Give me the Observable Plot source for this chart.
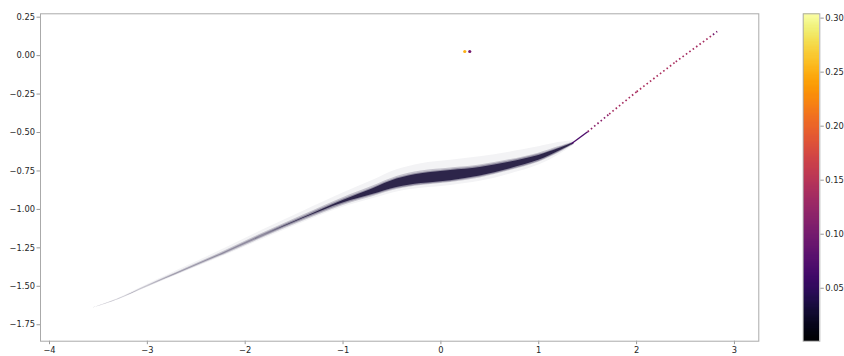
<!DOCTYPE html>
<html>
<head>
<meta charset="utf-8">
<script src="https://cdn.jsdelivr.net/npm/d3@7"></script>
<script src="https://cdn.jsdelivr.net/npm/@observablehq/plot@0.6"></script>
<style>
  html, body { margin: 0; padding: 0; background: #fff; }
  #wrap { position: relative; width: 844px; height: 356px; }
  #wrap svg { position: absolute; left: 0; top: 0; }
  .tick line, g[aria-label$="tick"] path { stroke: #9a9a9a; }
</style>
</head>
<body>
<div id="wrap"></div>
<script>
// ---- data ----
const xTicks = [-4, -3, -2, -1, 0, 1, 2, 3];
const yTicks = [-1.75, -1.5, -1.25, -1.0, -0.75, -0.5, -0.25, 0.0, 0.25];
const colorTicks = [0.05, 0.10, 0.15, 0.20, 0.25, 0.30];
const colorDomain = [0.001, 0.304];

// dense band: centre line and spreads (y units)
const bandX    = [-3.55, -3.3, -3.0, -2.6, -2.2, -1.8, -1.4, -1.0, -0.7, -0.45, -0.2, 0.1, 0.4, 0.7, 1.0, 1.2, 1.36];
const bandY    = [-1.64, -1.585, -1.5, -1.39, -1.28, -1.165, -1.055, -0.95, -0.885, -0.83, -0.8, -0.78, -0.755, -0.715, -0.665, -0.615, -0.57];
const haloHalf = [0.002, 0.005, 0.01, 0.016, 0.023, 0.03, 0.036, 0.045, 0.058, 0.07, 0.078, 0.08, 0.078, 0.07, 0.058, 0.04, 0.015];
const midHalf  = [0, 0.002, 0.005, 0.008, 0.011, 0.015, 0.018, 0.024, 0.032, 0.04, 0.045, 0.045, 0.04, 0.034, 0.028, 0.02, 0.008];
const innerHalf= [0, 0, 0, 0.002, 0.005, 0.008, 0.011, 0.016, 0.025, 0.034, 0.039, 0.04, 0.035, 0.029, 0.023, 0.015, 0.005];
const coreHalf = [0, 0, 0, 0, 0, 0, 0.002, 0.008, 0.018, 0.027, 0.032, 0.033, 0.028, 0.022, 0.016, 0.009, 0.003];

// sparse tail (line of isolated points) and its density values
const tailX = [1.33, 1.5, 1.72, 2.0, 2.4, 2.78, 2.824];
const tailY = [-0.575, -0.495, -0.38, -0.235, -0.04, 0.136, 0.157];
const tailC = [0.04, 0.1, 0.13, 0.14, 0.14, 0.13, 0.07];
const tailDotted = [false, true, true, true, true, true];

// isolated points
const outX = [0.244, 0.295];
const outY = [0.027, 0.027];
const outC = [0.25, 0.10];

// ---- build tables ----
const band = bandX.map((x, i) => ({x, y: bandY[i], h: haloHalf[i], m: midHalf[i], n: innerHalf[i], c: coreHalf[i]}));
const segs = tailX.slice(0, -1).map((x, i) => ({x1: x, y1: tailY[i], x2: tailX[i + 1], y2: tailY[i + 1], c: (tailC[i] + tailC[i + 1]) / 2, dotted: tailDotted[i]}));
const outs = outX.map((x, i) => ({x, y: outY[i], c: outC[i]}));

const W = 844, H = 356;
const font = {fontFamily: "'DejaVu Sans', sans-serif", fontSize: "8.3px", color: "#262626", background: "transparent", overflow: "visible"};
const colorScale = {type: "linear", scheme: "inferno", domain: colorDomain};
const bandFill = "#140b34";

const main = Plot.plot({
  width: W, height: H,
  marginLeft: 40, marginRight: 85.7, marginTop: 13.3, marginBottom: 15.3,
  style: font,
  x: {domain: [-4.092, 3.249], ticks: xTicks, tickSize: 3.5, tickPadding: 2, tickFormat: d3.format("d"), label: null},
  y: {domain: [-1.857, 0.272], ticks: yTicks, tickSize: 3.5, tickPadding: 2, tickFormat: d3.format(".2f"), label: null},
  color: colorScale,
  marks: [
    Plot.areaY(band, {x: "x", y1: d => d.y - d.h * 0.8, y2: d => d.y + d.h * 1.25, fill: bandFill, fillOpacity: 0.05, curve: "catmull-rom"}),
    Plot.areaY(band, {x: "x", y1: d => d.y - d.m, y2: d => d.y + d.m * 1.1, fill: bandFill, fillOpacity: 0.2, curve: "catmull-rom"}),
    Plot.areaY(band, {x: "x", y1: d => d.y - d.n, y2: d => d.y + d.n, fill: bandFill, fillOpacity: 0.3, curve: "catmull-rom"}),
    Plot.areaY(band, {x: "x", y1: d => d.y - d.c, y2: d => d.y + d.c, fill: bandFill, fillOpacity: 0.8, curve: "catmull-rom"}),
    Plot.link(segs.filter(d => !d.dotted), {x1: "x1", y1: "y1", x2: "x2", y2: "y2", stroke: "c", strokeWidth: 1.4}),
    Plot.link(segs.filter(d => d.dotted), {x1: "x1", y1: "y1", x2: "x2", y2: "y2", stroke: "c", strokeWidth: 1.7, strokeDasharray: "1.6,2.6"}),
    Plot.dot(outs, {x: "x", y: "y", fill: "c", r: 1.6}),
    Plot.frame({stroke: "#aaaaaa", strokeWidth: 1})
  ]
});

const bar = Plot.plot({
  width: W, height: H,
  marginLeft: 802.7, marginRight: 24.7, marginTop: 13.3, marginBottom: 15.3,
  style: font,
  x: {domain: [0, 1], axis: null},
  y: {domain: colorDomain, ticks: colorTicks, tickSize: 3.5, tickPadding: 2, tickFormat: d3.format(".2f"), axis: "right", label: null},
  color: colorScale,
  marks: [
    Plot.rect(d3.range(colorDomain[0], colorDomain[1], 0.001), {x1: () => 0, x2: () => 1, y1: d => d, y2: d => Math.min(d + 0.003, colorDomain[1]), fill: d => d, shapeRendering: "crispEdges"}),
    Plot.frame({stroke: "#aaaaaa", strokeWidth: 1})
  ]
});

const wrap = document.getElementById("wrap");
wrap.appendChild(main);
wrap.appendChild(bar);
</script>
</body>
</html>
